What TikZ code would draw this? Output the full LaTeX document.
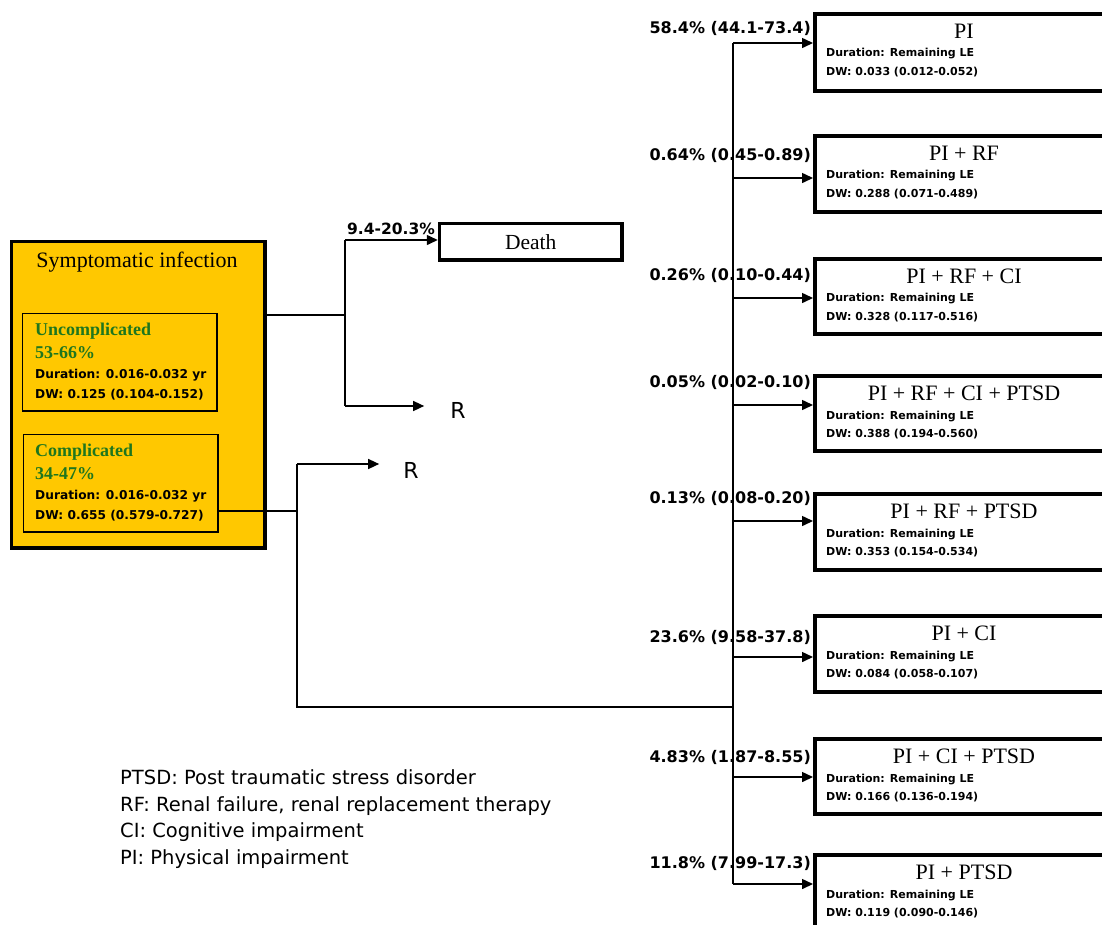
\documentclass[tikz,border=0pt]{standalone}
\usepackage{fontspec}
\setmainfont{Liberation Serif}
\newfontfamily\tahfont{DejaVu Sans}
\usetikzlibrary{arrows.meta}
\definecolor{gold}{RGB}{255,200,0}
\definecolor{dgreen}{RGB}{30,118,30}

\begin{document}
\begin{tikzpicture}[x=1pt,y=-1pt,
  conn/.style={line width=1.5pt},
  arr/.style={conn,-{Triangle[length=11pt,width=10pt]}},
  outcome/.style={draw,line width=4pt,anchor=north west,inner sep=0pt,minimum width=300pt},
  titletxt/.style={inner sep=0pt,font=\fontsize{22}{24}\selectfont},
  detailtxt/.style={inner sep=0pt,anchor=west,font=\tahfont\bfseries\fontsize{11}{13}\selectfont},
  probtxt/.style={inner sep=0pt,font=\tahfont\bfseries\fontsize{16}{18}\selectfont},
  subbox/.style={draw,line width=1.5pt,anchor=north west,inner sep=0pt,minimum width=194.5pt,minimum height=97.5pt},
  greentxt/.style={inner sep=0pt,anchor=west,text=dgreen,font=\bfseries\fontsize{18}{20}\selectfont},
  subdetail/.style={inner sep=0pt,anchor=west,font=\tahfont\bfseries\fontsize{12.2}{15}\selectfont},
  rtxt/.style={inner sep=0pt,font=\tahfont\fontsize{22}{24}\selectfont}
]
\useasboundingbox (0,0) rectangle (1102,924);

% ---- starting state ----
\node[draw,line width=3.5pt,fill=gold,anchor=north west,inner sep=0pt,
      minimum width=253.5pt,minimum height=306.5pt] (sym) at (9.75,239.75) {};
\node[inner sep=0pt,font=\fontsize{22}{24}\selectfont] (symt) at (137,262) {Symptomatic infection};

\node[subbox] (unc) at (21.75,312.75) {};
\node[greentxt] (unct) at (35,331) {Uncomplicated};
\node[greentxt] (uncp) at (35,353) {53-66\%};
\node[subdetail] (uncd) at (35,375) {Duration: 0.016-0.032 yr};
\node[subdetail] (uncw) at (35,395) {DW: 0.125 (0.104-0.152)};

\node[subbox] (comp) at (22.75,433.75) {};
\node[greentxt] (compt) at (35,452) {Complicated};
\node[greentxt] (compp) at (35,474) {34-47\%};
\node[subdetail] (compd) at (35,496) {Duration: 0.016-0.032 yr};
\node[subdetail] (compw) at (35,516) {DW: 0.655 (0.579-0.727)};

% ---- death / recovery branch ----
\node[draw,line width=3.5pt,anchor=north west,inner sep=0pt,
      minimum width=182.5pt,minimum height=36.5pt,font=\fontsize{21.5}{24}\selectfont]
      (death) at (437.75,221.75) {Death};
\node[probtxt,anchor=west,font=\tahfont\bfseries\fontsize{15.5}{18}\selectfont] (dp) at (347,229) {9.4-20.3\%};
\node[rtxt] (r1) at (458,410) {R};

\coordinate (j0) at (345,315);
\coordinate (jd) at (345,240);
\coordinate (jr) at (345,406);
\draw[conn] (sym.east |- j0) -- (j0);
\draw[conn] (jd) -- (jr);
\draw[arr] (jd) -- (death.west |- jd);
\draw[arr,shorten >=26pt] (jr) -- (jr -| r1.west);

% ---- complicated branch ----
\node[rtxt] (r2) at (411,470) {R};
\coordinate (c0) at (297,511);
\coordinate (cr) at (297,464);
\coordinate (cb) at (297,707);
\coordinate (ct) at (733,707);
\draw[conn] (comp.east |- c0) -- (c0);
\draw[conn] (cr) -- (cb) -- (ct);
\draw[arr,shorten >=24pt] (cr) -- (cr -| r2.west);

% ---- long-term outcomes ----
\foreach \i/\top/\h/\ttl/\dw/\pr/\ay/\py in {
  1/10/77/PI/0.033 (0.012-0.052)/58.4\% (44.1-73.4)/43/28,
  2/132/76/PI + RF/0.288 (0.071-0.489)/0.64\% (0.45-0.89)/178/155,
  3/255/75/PI + RF + CI/0.328 (0.117-0.516)/0.26\% (0.10-0.44)/298/275,
  4/372/75/PI + RF + CI + PTSD/0.388 (0.194-0.560)/0.05\% (0.02-0.10)/405/382,
  5/490/76/PI + RF + PTSD/0.353 (0.154-0.534)/0.13\% (0.08-0.20)/521/498,
  6/612/76/PI + CI/0.084 (0.058-0.107)/23.6\% (9.58-37.8)/657/637,
  7/735/75/PI + CI + PTSD/0.166 (0.136-0.194)/4.83\% (1.87-8.55)/777/757,
  8/851/95/PI + PTSD/0.119 (0.090-0.146)/11.8\% (7.99-17.3)/884/863}{
  \node[outcome,minimum height=\h pt] (box\i) at (813,\top+2) {};
  \node[titletxt] (ttl\i) at (964,\top+21) {\ttl};
  \node[detailtxt] (dur\i) at (826,\top+44) {Duration: Remaining LE};
  \node[detailtxt] (dw\i) at (826,\top+62) {DW: \dw};
  \node[probtxt,anchor=east] (pr\i) at (811,\py) {\pr};
  \coordinate (t\i) at (733,\ay);
  \draw[arr] (t\i) -- (box\i.west |- t\i);
}
\draw[conn] (t1) -- (t8);

% ---- abbreviations ----
\node[anchor=west,align=left,inner sep=0pt,font=\tahfont\fontsize{19.5}{26.7}\selectfont] (legend) at (120,819)
  {PTSD: Post traumatic stress disorder\\
   RF: Renal failure, renal replacement therapy\\
   CI: Cognitive impairment\\
   PI: Physical impairment};
\end{tikzpicture}
\end{document}
